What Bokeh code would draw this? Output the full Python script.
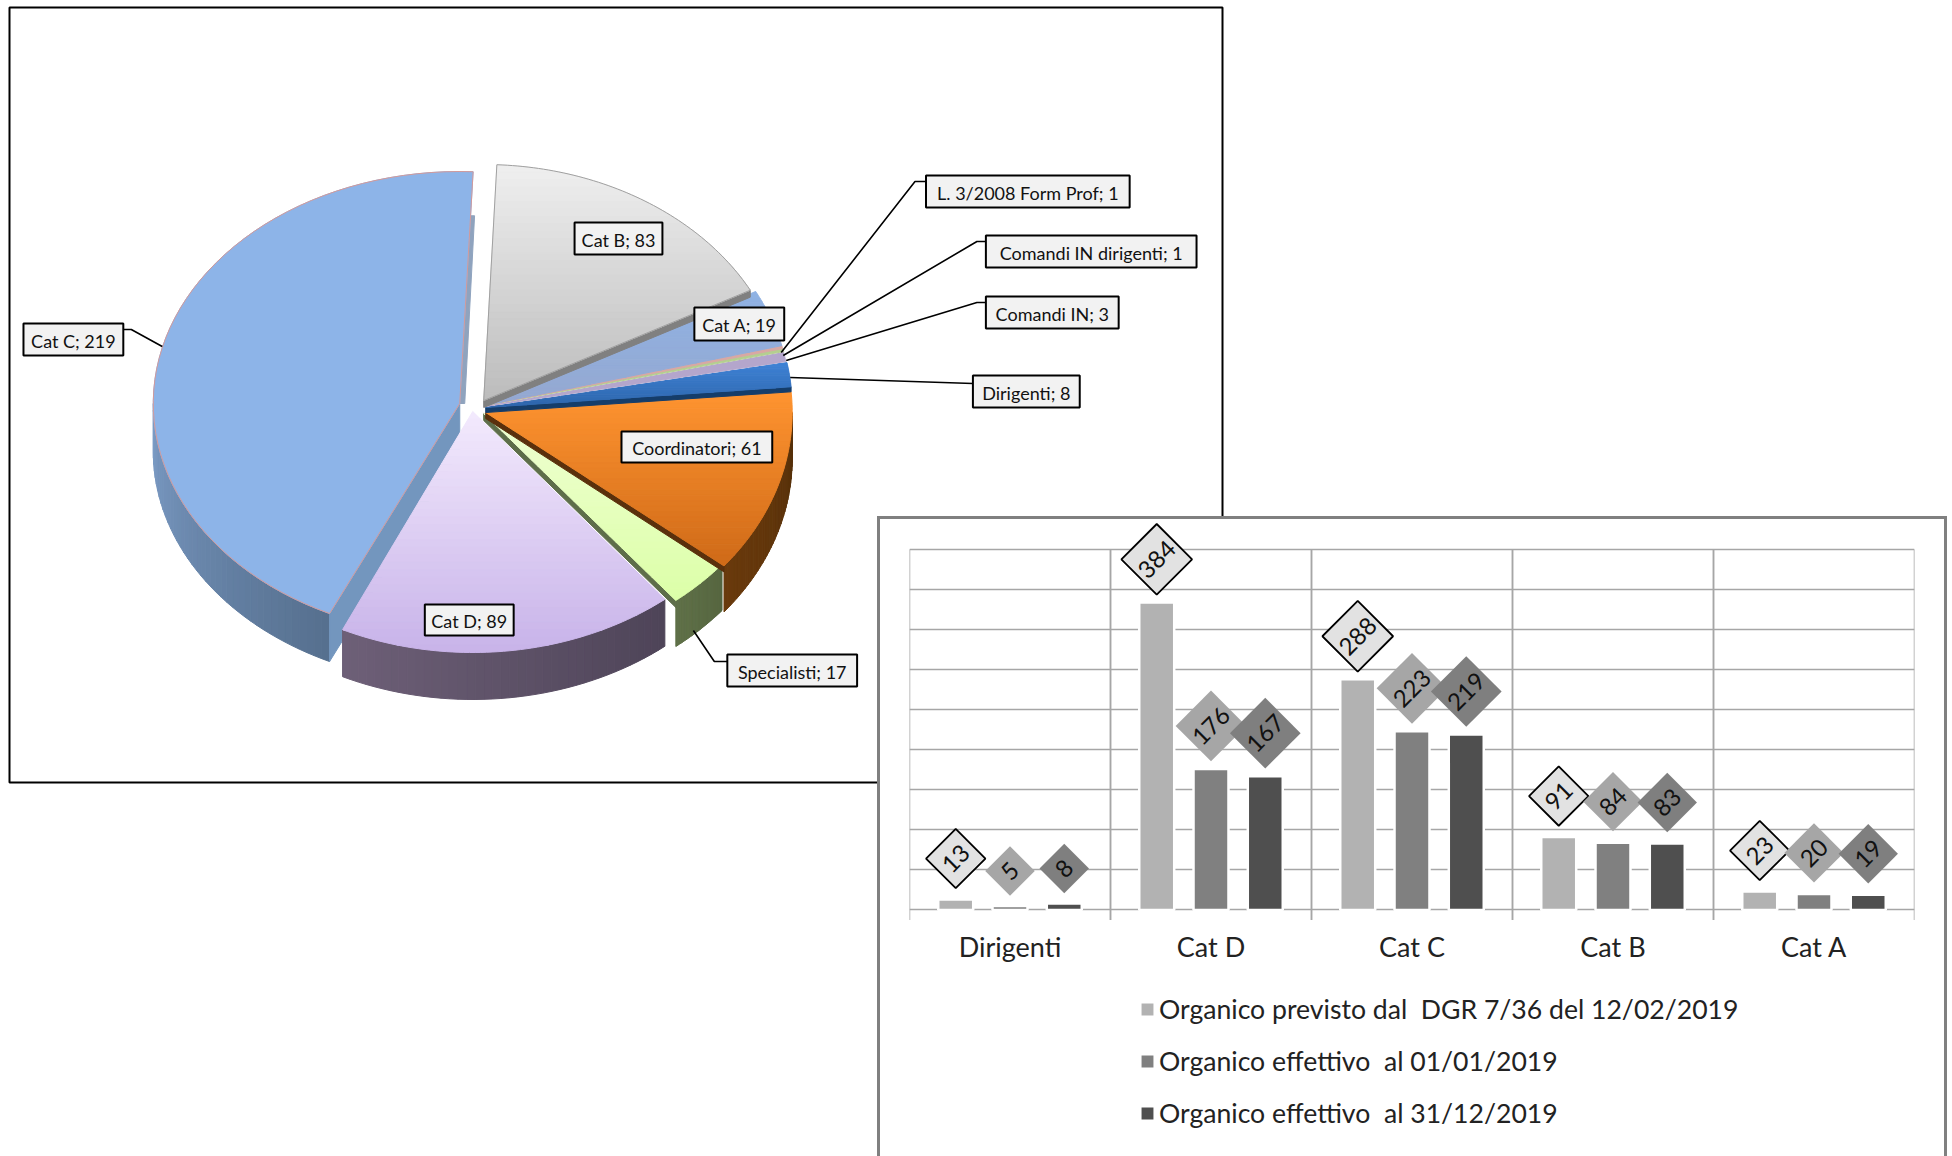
import math
from bokeh.plotting import figure
from bokeh.models import Range1d, FactorRange, ColumnDataSource, FixedTicker, Legend, LegendItem
from bokeh.transform import dodge
from bokeh.layouts import column
from bokeh.core.properties import value
from bokeh.embed import file_html
from bokeh.resources import INLINE

# ---------- data ----------
slice_names = ["Cat B", "Cat A", "L. 3/2008 Form Prof", "Comandi IN dirigenti", "Comandi IN",
               "Dirigenti", "Coordinatori", "Specialisti", "Cat D", "Cat C"]
slice_values = [83, 19, 1, 1, 3, 8, 61, 17, 89, 219]

categories = ["Dirigenti", "Cat D", "Cat C", "Cat B", "Cat A"]
previsto = [13, 384, 288, 91, 23]
effettivo_inizio = [5, 176, 223, 84, 20]
effettivo_fine = [8, 167, 219, 83, 19]
series_names = ["Organico previsto dal  DGR 7/36 del 12/02/2019",
                "Organico effettivo  al 01/01/2019",
                "Organico effettivo  al 31/12/2019"]

# ---------- pie styling ----------
START = 2.5
FONT = "Lato"
STY = {
    "Cat C": dict(c=(461, 403), r=(307, 232), top=("#8DB4E8", "#8DB4E8"), wall=("#7C9CC6", "#56708F"), depth=48, strip=0),
    "Cat D": dict(c=(474, 411), r=(307, 241), top=("#F3EAFD", "#C8B3E9"), wall=("#6E6078", "#4E4458"), depth=47, strip=0),
    "Specialisti": dict(c=(485, 413), r=(307, 240), top=("#EFFFD2", "#DCFFA8"), wall=("#5F7048", "#566640"), depth=46, strip=7, strip_c="#5E6E4A"),
    "Coordinatori": dict(c=(487, 412), r=(307, 244), top=("#FF9430", "#CF6A18"), wall=("#6A3A0C", "#55300A"), depth=46, strip=6, strip_c="#5A300C"),
    "Dirigenti": dict(c=(487, 407), r=(307, 244), top=("#3F82D6", "#2E66AC"), wall=("#153D6A", "#153D6A"), depth=5, strip=5, strip_c="#153D6A"),
    "Comandi IN": dict(c=(486, 406), r=(307, 244), top=("#B4A6CC", "#B4A6CC"), wall=None, depth=0, strip=0),
    "Comandi IN dirigenti": dict(c=(486, 405), r=(307, 244), top=("#B4CE90", "#B4CE90"), wall=None, depth=0, strip=0),
    "L. 3/2008 Form Prof": dict(c=(486, 405), r=(307, 244), top=("#D8A8A4", "#D8A8A4"), wall=None, depth=0, strip=0),
    "Cat A": dict(c=(486, 405), r=(307, 244), top=("#8FB2E4", "#95A8D0"), wall=None, depth=0, strip=0),
    "Cat B": dict(c=(485, 400), r=(302, 236), top=("#EFEFEF", "#BCBCBC"), wall=None, depth=0, strip=7, strip_c="#808080"),
}
ORDER = ["Cat C", "Cat D", "Specialisti", "Coordinatori", "Dirigenti", "Comandi IN",
         "Comandi IN dirigenti", "L. 3/2008 Form Prof", "Cat A", "Cat B"]
# label boxes: left, right, top, bottom in page pixels
LABELS = [("Cat B; 83", 576, 664, 222, 254), ("Cat A; 19", 696, 786, 307, 340),
          ("L. 3/2008 Form Prof; 1", 928, 1132, 175, 207), ("Comandi IN dirigenti; 1", 988, 1199, 235, 267),
          ("Comandi IN; 3", 988, 1121, 296, 328), ("Dirigenti; 8", 975, 1082, 375, 407),
          ("Coordinatori; 61", 623, 774, 431, 462), ("Specialisti; 17", 729, 859, 654, 686),
          ("Cat D; 89", 426, 515, 604, 635), ("Cat C; 219", 24, 124, 323, 355)]
LEADERS = [[(783, 352), (917, 181), (928, 181)], [(785, 355), (979, 241), (988, 241)],
           [(788, 360), (979, 302), (988, 302)], [(792, 377), (975, 383)],
           [(695, 630), (716, 661), (729, 661)], [(163, 346), (132, 329), (124, 329)]]


def hex2rgb(h):
    return tuple(int(h[i:i + 2], 16) for i in (1, 3, 5))


def mix(a, b, t):
    ra, rb = hex2rgb(a), hex2rgb(b)
    return "#%02X%02X%02X" % tuple(round(ra[i] + (rb[i] - ra[i]) * t) for i in range(3))


def pt(s, deg):
    (cx, cy), (rx, ry) = s["c"], s["r"]
    a = math.radians(deg)
    return cx + rx * math.sin(a), cy - ry * math.cos(a)


def arc(s, a0, a1, n=60):
    return [pt(s, a0 + (a1 - a0) * i / n) for i in range(n + 1)]


def clip_y(poly, y0, y1):
    def clip(points, inside, bound):
        out = []
        for i, p in enumerate(points):
            q = points[(i + 1) % len(points)]
            if inside(p):
                out.append(p)
            if inside(p) != inside(q):
                t = (bound - p[1]) / (q[1] - p[1])
                out.append((p[0] + (q[0] - p[0]) * t, bound))
        return out
    r = clip(poly, lambda p: p[1] >= y0, y0)
    return clip(r, lambda p: p[1] <= y1, y1) if r else r


# angle span of each slice, clockwise from the top, from the values
total = sum(slice_values)
spans = {}
cur = START
for name, v in zip(slice_names, slice_values):
    spans[name] = (cur, cur + v / total * 360)
    cur += v / total * 360

xs, ys, cols = [], [], []


def add(poly, col):
    xs.append([p[0] for p in poly])
    ys.append([p[1] for p in poly])
    cols.append(col)


outline = []
for name in ORDER:
    s = STY[name]
    a0, a1 = spans[name]
    tip = s["c"]
    rim = arc(s, a0, a1)
    if s["wall"]:
        lo, hi = max(a0, 90), min(a1, 270)
        if hi > lo:
            n = 40
            pts = arc(s, lo, hi, n)
            for i in range(n):
                p, q = pts[i], pts[i + 1]
                t = i / n if name == "Cat D" else 1 - i / n
                if name == "Cat D":
                    t = 1 - t
                add([p, q, (q[0], q[1] + s["depth"]), (p[0], p[1] + s["depth"])], mix(s["wall"][0], s["wall"][1], t))
    if name == "Cat C":
        e = rim[0]
        d = s["depth"]
        add([tip, e, (e[0], e[1] + d), (tip[0], tip[1] + d)], "#7396BE")
        e2 = rim[-1]
        f = 0.19
        on_edge = (e2[0] + (tip[0] - e2[0]) * f, e2[1] + (tip[1] - e2[1]) * f)
        add([tip, (tip[0] + 5, tip[1]), (on_edge[0] + 4, on_edge[1]), on_edge], "#8FA3BE")
    if s["strip"]:
        e = rim[-1]
        t = s["strip"]
        add([tip, e, (e[0], e[1] + t), (tip[0], tip[1] + t)], s["strip_c"])
    poly = [tip] + rim
    y_min, y_max = min(p[1] for p in poly), max(p[1] for p in poly)
    n = 32 if s["top"][0] != s["top"][1] else 1
    for i in range(n):
        b0 = y_min + (y_max - y_min) * i / n
        b1 = y_min + (y_max - y_min) * (i + 1) / n
        c = clip_y(poly, b0, b1)
        if len(c) >= 3:
            add(c, mix(s["top"][0], s["top"][1], (i + .5) / n))
    if name in ("Cat C", "Cat B"):
        outline.append((poly, "#D39A9A" if name == "Cat C" else "#A0A0A0"))

p1 = figure(width=1278, height=779, x_range=Range1d(10, 1225), y_range=Range1d(782, 7),
            x_axis_location=None, y_axis_location=None,
            output_backend="svg", toolbar_location=None, min_border_left=2, min_border_right=2,
            min_border_top=2, min_border_bottom=2,
            styles={"position": "absolute", "left": "-20px", "top": "5px", "width": "1278px", "height": "779px"})
p1.grid.visible = False
p1.outline_line_color = "black"
p1.outline_line_width = 2
p1.patches(xs, ys, fill_color=cols, line_color=cols, line_width=1)
for poly, c in outline:
    p1.line([q[0] for q in poly] + [poly[0][0]], [q[1] for q in poly] + [poly[0][1]], line_color=c, line_width=1)
for ld in LEADERS:
    p1.line([q[0] for q in ld], [q[1] for q in ld], line_color="black", line_width=1.6)
lab = ColumnDataSource(dict(text=[l[0] for l in LABELS], l=[l[1] for l in LABELS], r=[l[2] for l in LABELS],
                            t=[l[3] for l in LABELS], b=[l[4] for l in LABELS],
                            x=[(l[1] + l[2]) / 2 for l in LABELS], y=[(l[3] + l[4]) / 2 + 1 for l in LABELS]))
p1.quad(left="l", right="r", top="t", bottom="b", source=lab, fill_color="#F2F2F2", line_color="black", line_width=2)
p1.text(x="x", y="y", text="text", source=lab, text_font=value(FONT), text_font_size="18px",
        text_align="center", text_baseline="middle", text_color="#111111")

# ---------- bar chart ----------
x_range = FactorRange(factors=categories, range_padding=0, factor_padding=0, group_padding=0)
p2 = figure(width=1070, height=640, x_range=x_range, y_range=Range1d(-311.5, 487.5),
            output_backend="svg", toolbar_location=None,
            min_border_left=29, min_border_right=36, min_border_top=0, min_border_bottom=0,
            styles={"position": "absolute", "left": "877px", "top": "516px", "width": "1070px", "height": "640px",
                    "border-left": "3px solid #808080", "border-right": "3px solid #808080",
                    "border-top": "3px solid #808080", "box-sizing": "border-box", "background": "white"})
p2.outline_line_color = None
p2.yaxis.visible = False
p2.xgrid.visible = False
p2.ygrid.ticker = FixedTicker(ticks=list(range(0, 451, 50)))
p2.ygrid.grid_line_color = "#A6A6A6"
p2.ygrid.grid_line_width = 1.5
ax = p2.xaxis[0]
ax.fixed_location = -12.5
ax.major_tick_line_color = None
ax.axis_line_color = None
ax.major_label_text_font = FONT
ax.major_label_text_font_size = "27px"
ax.major_label_text_color = "#222222"
ax.major_label_standoff = 4

edge = ColumnDataSource(dict(cat=categories, y0=[-12.5] * 5, y1=[450] * 5))
p2.segment(x0=dodge("cat", -0.5, range=x_range), x1=dodge("cat", -0.5, range=x_range), y0="y0", y1="y1", source=edge,
           line_color="#A6A6A6", line_width=1.5)
p2.segment(x0=dodge("cat", 0.5, range=x_range), x1=dodge("cat", 0.5, range=x_range), y0="y0", y1="y1", source=edge,
           line_color="#A6A6A6", line_width=1.5)

PX_PER_UNIT = 0.8
SIDE = {1: 35, 2: 42, 3: 50}
LIFT = {1: 35, 2: 41, 3: 43}
styles = [dict(offset=-0.27, bar="#B2B2B2", fill="#E2E2E2", line="black"),
          dict(offset=0.0, bar="#808080", fill="#A6A6A6", line=None),
          dict(offset=0.27, bar="#4F4F4F", fill="#7F7F7F", line=None)]
items = []
series = [previsto, effettivo_inizio, effettivo_fine]
for name, vals, st in zip(series_names, series, styles):
    src = ColumnDataSource(dict(cat=categories, v=vals, zero=[0] * 5))
    xd = dodge("cat", st["offset"], range=x_range)
    r = p2.vbar(x=xd, bottom="zero", top="v", width=0.174, source=src, fill_color=st["bar"],
                line_color="white", line_width=2.5)
    items.append(LegendItem(label=name, renderers=[r]))
for vals, st in zip(series, styles):
    src = ColumnDataSource(dict(cat=categories,
                                ly=[v + LIFT[len(str(v))] / PX_PER_UNIT for v in vals],
                                side=[SIDE[len(str(v))] for v in vals], txt=[str(v) for v in vals]))
    xd = dodge("cat", st["offset"], range=x_range)
    p2.scatter(x=xd, y="ly", size="side", marker="square", angle=math.pi / 4, source=src,
               fill_color=st["fill"], line_color=st["line"], line_width=1.8)
    p2.text(x=xd, y="ly", text="txt", source=src, angle=math.pi / 4, text_font=value(FONT), text_font_size="24px",
            text_align="center", text_baseline="middle", text_color="#111111")

legend = Legend(items=items, location=(229, 27), orientation="vertical", background_fill_alpha=0,
                border_line_color=None, label_text_font=FONT, label_text_font_size="26.6px",
                label_text_color="#222222", glyph_width=18, glyph_height=18, spacing=14, padding=0,
                margin=0, label_standoff=3, label_height=38)
p2.add_layout(legend, "center")

layout = column(p1, p2, width=1936, height=1140)
open("out.html", "w").write(file_html(layout, INLINE))
